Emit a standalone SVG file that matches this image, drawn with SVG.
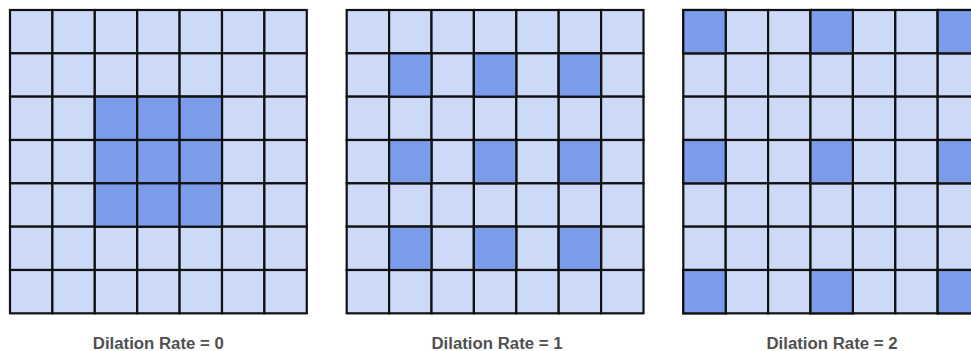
<svg xmlns="http://www.w3.org/2000/svg" width="971" height="351" viewBox="0 0 971 351">
<style>
.c{fill:#ccdaf8;stroke:#111;stroke-width:2.2}
.d{fill:#7b9de9;stroke:#111;stroke-width:2.2}
.t{font-family:"Liberation Sans",Arial,sans-serif;font-weight:bold;font-size:16.8px;fill:#505050;text-anchor:middle}
</style>
<defs>
<g id="row">
<rect class="c" x="0" y="0" width="42.4" height="43.33"/>
<rect class="c" x="42.4" y="0" width="42.4" height="43.33"/>
<rect class="c" x="84.8" y="0" width="42.4" height="43.33"/>
<rect class="c" x="127.2" y="0" width="42.4" height="43.33"/>
<rect class="c" x="169.6" y="0" width="42.4" height="43.33"/>
<rect class="c" x="212" y="0" width="42.4" height="43.33"/>
<rect class="c" x="254.4" y="0" width="42.4" height="43.33"/>
</g>
<g id="grid">
<use href="#row" y="0"/>
<use href="#row" y="43.33"/>
<use href="#row" y="86.67"/>
<use href="#row" y="130"/>
<use href="#row" y="173.33"/>
<use href="#row" y="216.67"/>
<use href="#row" y="260"/>
</g>
</defs>
<g id="grid-rate-0" transform="translate(10,10)">
<use href="#grid"/>
<rect class="d" x="84.8" y="86.67" width="42.4" height="43.33"/>
<rect class="d" x="127.2" y="86.67" width="42.4" height="43.33"/>
<rect class="d" x="169.6" y="86.67" width="42.4" height="43.33"/>
<rect class="d" x="84.8" y="130" width="42.4" height="43.33"/>
<rect class="d" x="127.2" y="130" width="42.4" height="43.33"/>
<rect class="d" x="169.6" y="130" width="42.4" height="43.33"/>
<rect class="d" x="84.8" y="173.33" width="42.4" height="43.33"/>
<rect class="d" x="127.2" y="173.33" width="42.4" height="43.33"/>
<rect class="d" x="169.6" y="173.33" width="42.4" height="43.33"/>
</g>
<g id="grid-rate-1" transform="translate(346.7,10)">
<use href="#grid"/>
<rect class="d" x="42.4" y="43.33" width="42.4" height="43.33"/>
<rect class="d" x="127.2" y="43.33" width="42.4" height="43.33"/>
<rect class="d" x="212" y="43.33" width="42.4" height="43.33"/>
<rect class="d" x="42.4" y="130" width="42.4" height="43.33"/>
<rect class="d" x="127.2" y="130" width="42.4" height="43.33"/>
<rect class="d" x="212" y="130" width="42.4" height="43.33"/>
<rect class="d" x="42.4" y="216.67" width="42.4" height="43.33"/>
<rect class="d" x="127.2" y="216.67" width="42.4" height="43.33"/>
<rect class="d" x="212" y="216.67" width="42.4" height="43.33"/>
</g>
<g id="grid-rate-2" transform="translate(683.3,10)">
<use href="#grid"/>
<rect class="d" x="0" y="0" width="42.4" height="43.33"/>
<rect class="d" x="127.2" y="0" width="42.4" height="43.33"/>
<rect class="d" x="254.4" y="0" width="42.4" height="43.33"/>
<rect class="d" x="0" y="130" width="42.4" height="43.33"/>
<rect class="d" x="127.2" y="130" width="42.4" height="43.33"/>
<rect class="d" x="254.4" y="130" width="42.4" height="43.33"/>
<rect class="d" x="0" y="260" width="42.4" height="43.33"/>
<rect class="d" x="127.2" y="260" width="42.4" height="43.33"/>
<rect class="d" x="254.4" y="260" width="42.4" height="43.33"/>
</g>
<g id="labels">
<text class="t" x="158.3" y="348.5">Dilation Rate = 0</text>
<text class="t" x="497" y="348.5">Dilation Rate = 1</text>
<text class="t" x="832" y="348.5">Dilation Rate = 2</text>
</g>
<g id="connectors"/>
</svg>
